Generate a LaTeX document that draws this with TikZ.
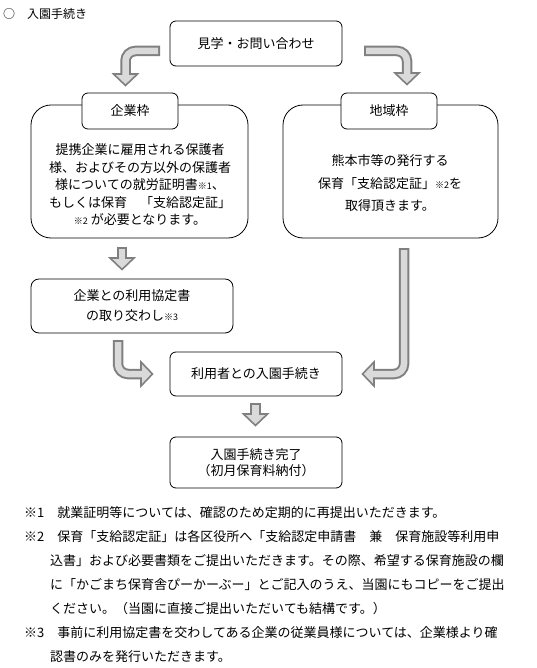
\documentclass[tikz,border=0pt]{standalone}
\usepackage{fontspec}
\setmainfont{Noto Sans CJK JP}
\usetikzlibrary{positioning}
\definecolor{arrowline}{RGB}{128,128,128}
\definecolor{arrowfill}{RGB}{218,218,218}
\newcommand\kome[1]{{\fontsize{9}{10}\selectfont #1}}
% block arrow: path, head position, head direction
\newcommand\blockarrow[3]{%
  \draw[arrowbody] #1;
  \pic[rotate=#3] at #2 {arrowtip};
  \draw[arrowcore] #1;}

\begin{document}
\begin{tikzpicture}[x=1pt,y=-1pt,font=\fontsize{13}{17}\selectfont,
    box/.style={draw,line width=0.8pt,rounded corners=6pt,fill=white,inner sep=0pt,align=center},
    bigbox/.style={box,rounded corners=20pt},
    arrowbody/.style={draw=arrowline,line width=10.5pt,rounded corners=10pt},
    arrowcore/.style={draw=arrowfill,line width=6.5pt,rounded corners=10pt,shorten <=2pt,shorten >=-2pt},
    pics/arrowtip/.style={code={\filldraw[fill=arrowfill,draw=arrowline,line width=1.6pt,line join=miter] (0,-12) -- (11.5,0) -- (0,12) -- cycle;}}]

    \path[use as bounding box,fill=white] (0,0) rectangle (536,668);

    \node[anchor=west,inner sep=0pt,font=\fontsize{12}{14}\selectfont] (title) at (3,14) {○　入園手続き};

    \node[box,minimum width=172,minimum height=45] (enq) at (256,43.5) {見学・お問い合わせ};

    % two entry routes
    \node[bigbox,minimum width=217,minimum height=133] (corp) at (139.5,171.5) {};
    \node[box,minimum width=96,minimum height=36] (corplabel) at (130,111) {企業枠};
    \node[align=center,font=\fontsize{13}{17.5}\selectfont] (corptext) at (140,185)
        {提携企業に雇用される保護者\\様、およびその方以外の保護者\\様についての就労証明書\kome{※1}、\\もしくは保育　「支給認定証」\\\kome{※2} が必要となります。};

    \node[bigbox,minimum width=215,minimum height=133] (area) at (390.5,171.5) {};
    \node[box,minimum width=96,minimum height=36] (arealabel) at (389,111) {地域枠};
    \node[align=center,font=\fontsize{13}{22.5}\selectfont] (areatext) at (390,183.5)
        {熊本市等の発行する\\保育「支給認定証」\kome{※2}を\\取得頂きます。};

    \node[box,rounded corners=8pt,minimum width=202,minimum height=54,font=\fontsize{13}{20}\selectfont] (agree) at (132,306)
        {企業との利用協定書\\の取り交わし\kome{※3}};
    \node[box,minimum width=172,minimum height=44] (user) at (256,374) {利用者との入園手続き};
    \node[box,minimum width=172,minimum height=51,font=\fontsize{13}{16.5}\selectfont] (done) at (256,462.5)
        {入園手続き完了\\（初月保育料納付）};

    % arrow ends
    \coordinate (a1s) at (160,51);    \coordinate (a1e) at (125.5,74);
    \coordinate (a2s) at (364,51);    \coordinate (a2e) at (407,73);
    \coordinate (a3s) at (122,247);   \coordinate (a3e) at (122,258);
    \coordinate (a4s) at (118,340);   \coordinate (a4e) at (141,374);
    \coordinate (a5s) at (404,248);   \coordinate (a5e) at (374,374);
    \coordinate (a6s) at (255.5,403); \coordinate (a6e) at (255.5,414);

    \blockarrow{(a1s) -| (a1e)}{(a1e)}{-90}
    \blockarrow{(a2s) -| (a2e)}{(a2e)}{-90}
    \blockarrow{(a3s) -- (a3e)}{(a3e)}{-90}
    \blockarrow{(a4s) |- (a4e)}{(a4e)}{0}
    \blockarrow{(a5s) |- (a5e)}{(a5e)}{180}
    \blockarrow{(a6s) -- (a6e)}{(a6e)}{-90}

    % notes
    \foreach \nx/\ny/\ntext [count=\i] in {
        24/513/{※1　就業証明等については、確認のため定期的に再提出いただきます。},
        24/536.9/{※2　保育「支給認定証」は各区役所へ「支給認定申請書　兼　保育施設等利用申},
        50/560.8/{込書」および必要書類をご提出いただきます。その際、希望する保育施設の欄},
        50/584.7/{に「かごまち保育舎ぴーかーぶー」とご記入のうえ、当園にもコピーをご提出},
        50/608.6/{ください。（当園に直接ご提出いただいても結構です。）},
        24/632.5/{※3　事前に利用協定書を交わしてある企業の従業員様については、企業様より確},
        50/656.4/{認書のみを発行いただきます。}}
        \node[anchor=west,inner sep=0pt] (note\i) at (\nx,\ny) {\ntext};

\end{tikzpicture}
\end{document}
